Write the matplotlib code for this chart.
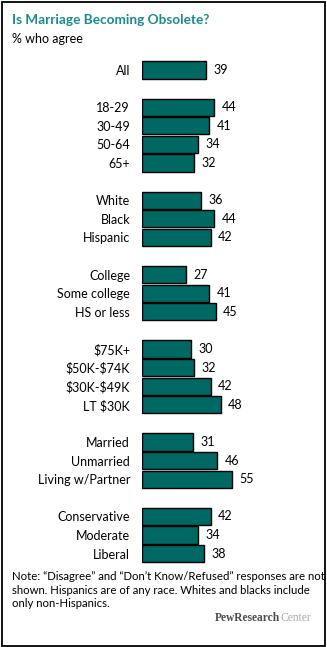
import matplotlib.pyplot as plt
from matplotlib.patches import Rectangle

plt.rcParams["text.parse_math"] = False
plt.rcParams["font.family"] = ["Lato", "DejaVu Sans"]

# survey data, % who agree marriage is becoming obsolete
groups = [
    ["All"],
    ["18-29", "30-49", "50-64", "65+"],
    ["White", "Black", "Hispanic"],
    ["College", "Some college", "HS or less"],
    ["$75K+", "$50K-$74K", "$30K-$49K", "LT $30K"],
    ["Married", "Unmarried", "Living w/Partner"],
    ["Conservative", "Moderate", "Liberal"],
]
values = [
    [39],
    [44, 41, 34, 32],
    [36, 44, 42],
    [27, 41, 45],
    [30, 32, 42, 48],
    [31, 46, 55],
    [42, 34, 38],
]

title = "Is Marriage Becoming Obsolete?"
subtitle = "% who agree"
note = ("Note: \u201cDisagree\u201d and \u201cDon\u2019t Know/Refused\u201d responses are not\n"
        "shown. Hispanics are of any race. Whites and blacks include\n"
        "only non-Hispanics.")

bar_color = "#006863"
title_color = "#1b8a8a"

W, H = 327, 647
fig = plt.figure(figsize=(W / 100, H / 100), dpi=100)

# one blank row between groups
labels, vals, pos = [], [], []
slot = 0
for g, v in zip(groups, values):
    for lab, val in zip(g, v):
        labels.append(lab)
        vals.append(val)
        pos.append(slot)
        slot += 1
    slot += 1

step = 18.6
px_per_unit = 1.636
ax_left, ax_right = 142, 322
ax_top, ax_bot = 60, 565
ax = fig.add_axes([ax_left / W, 1 - ax_bot / H, (ax_right - ax_left) / W, (ax_bot - ax_top) / H])
ax.barh(pos, vals, height=0.93, color=bar_color, edgecolor="black", linewidth=1.0)
ax.set_xlim(0, (ax_right - ax_left) / px_per_unit)
y0 = -(70 - ax_top) / step
y1 = pos[-1] + (ax_bot - (70 + pos[-1] * step)) / step
ax.set_ylim(y1, y0)

ax.set_yticks(pos)
ax.set_yticklabels(labels, fontsize=9)
ax.tick_params(axis="y", length=0, pad=8.6)
ax.set_xticks([])
for s in ax.spines.values():
    s.set_visible(False)

for p, v in zip(pos, vals):
    ax.annotate(str(v), xy=(v, p), xytext=(5.4, 0), textcoords="offset points",
                ha="left", va="center", fontsize=9)

fig.text(12 / W, 1 - 24 / H, title, fontsize=9.8, fontweight="bold",
         color=title_color, ha="left", va="baseline")
fig.text(12 / W, 1 - 43 / H, subtitle, fontsize=9, ha="left", va="baseline")
fig.text(12 / W, 1 - 571 / H, note, fontsize=8.2, ha="left", va="top", linespacing=1.3)

center = fig.text(311 / W, 1 - 618 / H, "Center", fontsize=8.3, family="Liberation Serif",
                  color="#a8a8a8", ha="right", va="center")
fig.texts.append(plt.Annotation("PewResearch", xy=(0, 0.5), xycoords=center,
                                ha="right", va="center", fontsize=8.3,
                                family="Liberation Serif", fontweight="bold", color="#4d4d4d"))
fig.texts[-1].set_figure(fig)

fig.patches.append(Rectangle((1.5 / W, 1.5 / H), (W - 3.5) / W, (H - 3.5) / H,
                             transform=fig.transFigure, fill=False,
                             edgecolor="black", linewidth=1.3))

fig.savefig("out.png", dpi=100)
